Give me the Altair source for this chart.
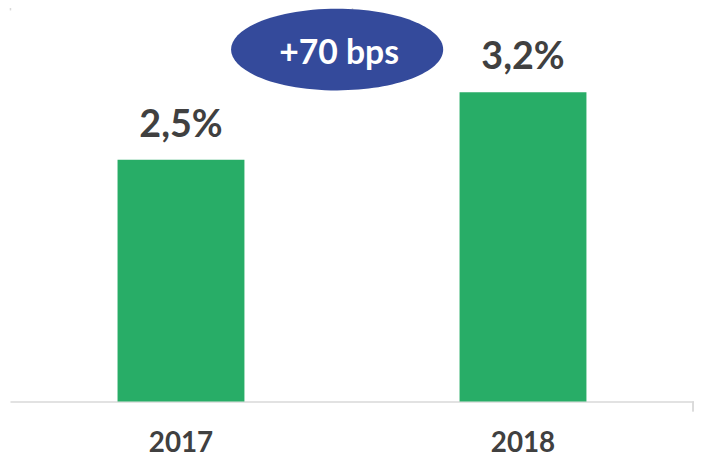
import altair as alt
import pandas as pd

years = ["2017", "2018"]
values = [2.5, 3.2]
labels = ["2,5%", "3,2%"]
annotation_text = ["+70 bps"]
annotation_y = [3.64]

df = pd.DataFrame({"year": years, "value": values, "label": labels})
ann = pd.DataFrame({"text": annotation_text, "y": annotation_y})

FONT = "Lato"
GREEN = "#28AD67"
BLUE = "#344A9B"
DARK = "#404040"
GREY = "#D9D9D9"

xscale = alt.Scale(paddingInner=0, paddingOuter=0)
yscale = alt.Scale(domain=[0, 4.05], nice=False, zero=True)

bars = alt.Chart(df).mark_bar(size=128, color=GREEN).encode(
    x=alt.X("year:N", scale=xscale, sort=years,
            axis=alt.Axis(title=None, labelAngle=0, labelFont=FONT, labelFontSize=28,
                          labelFontWeight="bold", labelColor=DARK, labelPadding=28,
                          labelBaseline="top", ticks=False, domain=True,
                          domainColor=GREY, domainWidth=1.5, grid=False)),
    y=alt.Y("value:Q", scale=yscale, axis=None),
)

tick_layer = alt.Chart(df).mark_text(font=FONT, fontSize=38, fontWeight="bold",
                                     color=DARK, baseline="alphabetic", dy=-23).encode(
    x=alt.X("year:N", scale=xscale, sort=years,
            axis=alt.Axis(title=None, labels=False, domain=False, ticks=True,
                          tickColor=GREY, tickWidth=1.5, tickSize=10,
                          bandPosition=0, grid=False)),
    y=alt.Y("value:Q", scale=yscale, axis=None),
    text="label:N",
)

end_tick = alt.Chart(df).mark_rule(color=GREY, strokeWidth=1.5).encode(
    x=alt.value(689), y=alt.value(395), y2=alt.value(405)
)

ellipse_path = "M -1 0 A 1 0.385 0 1 1 1 0 A 1 0.385 0 1 1 -1 0 Z"
ellipse = alt.Chart(ann).mark_point(shape=ellipse_path, filled=True, fill=BLUE,
                                    opacity=1, size=214 * 214, strokeWidth=0).encode(
    x=alt.value(330),
    y=alt.Y("y:Q", scale=yscale, axis=None),
)

ann_text = alt.Chart(ann).mark_text(font=FONT, fontSize=34, fontWeight="bold",
                                    color="white", baseline="middle", dx=2, dy=5).encode(
    x=alt.value(330),
    y=alt.Y("y:Q", scale=yscale, axis=None),
    text="text:N",
)

chart = alt.layer(bars, tick_layer, end_tick, ellipse, ann_text).resolve_axis(
    x="independent"
).properties(
    width=690, height=395,
    autosize=alt.AutoSizeParams(type="none"),
    padding={"left": 2, "top": 0, "right": 0, "bottom": 55},
).configure_view(stroke=None)

chart.save("out.html", embed_options={"renderer": "svg", "actions": False})
